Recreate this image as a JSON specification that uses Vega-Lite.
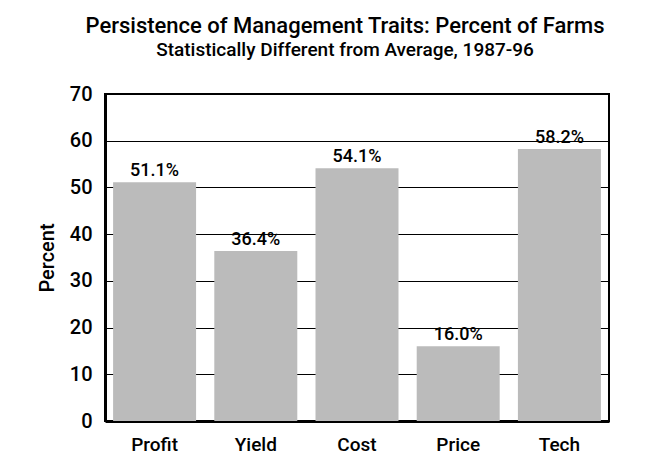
{
  "$schema": "https://vega.github.io/schema/vega-lite/v6.json",
  "width": 504,
  "height": 327,
  "autosize": "none",
  "padding": {"left": 105, "top": 94, "right": 42, "bottom": 52},
  "background": "white",
  "title": {
    "text": "Persistence of Management Traits: Percent of Farms",
    "subtitle": "Statistically Different from Average, 1987-96",
    "anchor": "middle",
    "dx": -12,
    "offset": 23,
    "font": "Roboto",
    "fontSize": 22,
    "fontWeight": 500,
    "color": "black",
    "subtitleFont": "Roboto",
    "subtitleFontSize": 19,
    "subtitleFontWeight": 500,
    "subtitleColor": "black",
    "subtitlePadding": 3
  },
  "data": {
    "values": [
      {"trait": "Profit", "percent": 51.1, "label": "51.1%"},
      {"trait": "Yield", "percent": 36.4, "label": "36.4%"},
      {"trait": "Cost", "percent": 54.1, "label": "54.1%"},
      {"trait": "Price", "percent": 16.0, "label": "16.0%"},
      {"trait": "Tech", "percent": 58.2, "label": "58.2%"}
    ]
  },
  "encoding": {
    "x": {
      "field": "trait",
      "type": "nominal",
      "sort": null,
      "scale": {"paddingInner": 0.18, "paddingOuter": 0.08},
      "axis": {
        "title": null,
        "labelAngle": 0,
        "ticks": false,
        "labelPadding": 14,
        "labelFont": "Roboto",
        "labelFontSize": 19,
        "labelFontWeight": 500,
        "labelColor": "black",
        "domainColor": "black",
        "domainWidth": 3
      }
    },
    "y": {
      "field": "percent",
      "type": "quantitative",
      "scale": {"domain": [0, 70], "nice": false},
      "axis": {
        "title": "Percent",
        "values": [0, 10, 20, 30, 40, 50, 60, 70],
        "ticks": false,
        "labelPadding": 13,
        "labelFont": "Roboto",
        "labelFontSize": 20,
        "labelFontWeight": 500,
        "labelColor": "black",
        "grid": true,
        "gridColor": "black",
        "gridWidth": 1,
        "gridOpacity": 1,
        "domainColor": "black",
        "domainWidth": 3,
        "titleFont": "Roboto",
        "titleFontSize": 20,
        "titleFontWeight": 500,
        "titleColor": "black",
        "titlePadding": 12
      }
    }
  },
  "layer": [
    {"mark": {"type": "bar", "color": "#bbbbbb"}},
    {
      "mark": {"type": "text", "baseline": "bottom", "dy": -2, "font": "Roboto", "fontSize": 18, "fontWeight": 500, "color": "black"},
      "encoding": {"text": {"field": "label"}}
    }
  ],
  "config": {
    "view": {"stroke": "black", "strokeWidth": 2}
  }
}
